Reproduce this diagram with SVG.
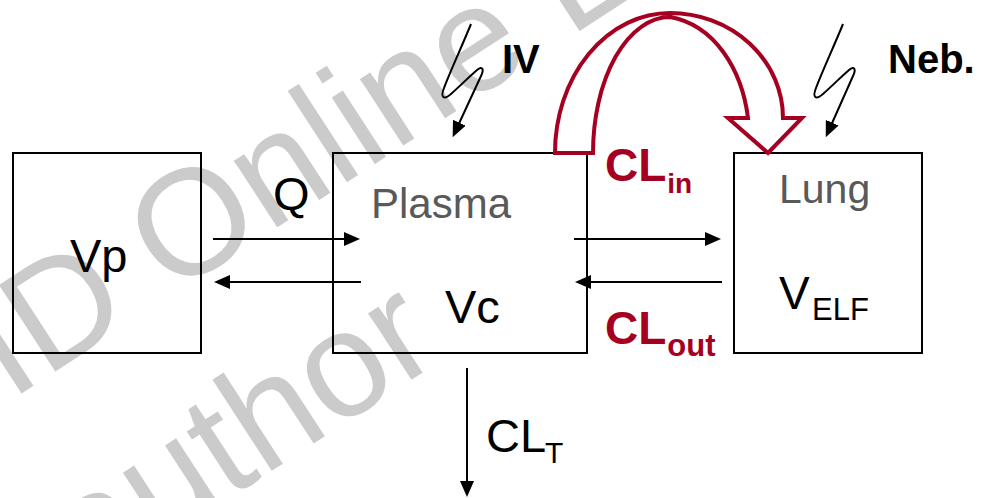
<svg xmlns="http://www.w3.org/2000/svg" width="982" height="498" viewBox="0 0 982 498">
<defs>
<marker id="ah" markerUnits="userSpaceOnUse" markerWidth="16" markerHeight="14" refX="8" refY="7" orient="auto">
<path d="M0,0 L16,7 L0,14 Z" fill="#000"/>
</marker>
<style>
.box{fill:none;stroke:#000;stroke-width:2}
.t{font-family:"Liberation Sans",Arial,sans-serif;fill:#000}
.g{fill:#595959}
.b{font-weight:bold}
.red{fill:#A50021}
.wm{font-family:"Liberation Sans",Arial,sans-serif;fill:#cbcbcb;font-size:150px}
.c{fill:none;stroke:#000;stroke-width:2}
</style>
</defs>
<rect width="982" height="498" fill="#fff"/>
<g id="watermark">
<text class="wm" transform="translate(10,401) rotate(-33)">ID Online L</text>
<text class="wm" transform="translate(88,590) rotate(-33)">author</text>
</g>
<g id="node-vp">
<rect class="box" x="13" y="153" width="188" height="200"/>
<text class="t" x="70" y="272" font-size="47">Vp</text>
</g>
<g id="node-plasma">
<rect class="box" x="333" y="153" width="254" height="200"/>
<text class="t g" x="371" y="218" font-size="42">Plasma</text>
<text class="t" x="445" y="323" font-size="47">Vc</text>
</g>
<g id="node-lung">
<rect class="box" x="734" y="153" width="188" height="200"/>
<text class="t g" x="779" y="203" font-size="41">Lung</text>
<text class="t" x="779" y="309" font-size="46">V<tspan font-size="31" x="812" y="320">ELF</tspan></text>
</g>
<g id="connectors">
<path class="c" d="M213,239 H352" marker-end="url(#ah)"/>
<path class="c" d="M361,282 H222" marker-end="url(#ah)"/>
<path class="c" d="M574,239 H713" marker-end="url(#ah)"/>
<path class="c" d="M722,282 H583" marker-end="url(#ah)"/>
<path class="c" d="M467,368 V489" marker-end="url(#ah)"/>
<path class="c" d="M471,24 C462,46 450,72 444,88 C440,98 444,100 451,94 C460,86 470,76 477,70 C483,65 484,70 481,76 L456,130" marker-end="url(#ah)"/>
<path class="c" d="M843,24 C834,46 822,72 816,88 C812,98 816,100 823,94 C832,86 842,76 849,70 C855,65 856,70 853,76 L829,130" marker-end="url(#ah)"/>
<path d="M555,153 A115,140 0 0 1 670,13 A113,105 0 0 1 783,118 L802,118 L768,153 L728,118 L748,118 C742,70 715,25 670,17 A77,136 0 0 0 593,153 Z" fill="#fff" stroke="#A50021" stroke-width="4" stroke-linejoin="miter"/>
</g>
<g id="labels">
<text class="t" x="273" y="210" font-size="47">Q</text>
<text class="t b" x="502" y="73" font-size="40">IV</text>
<text class="t b" x="888" y="73" font-size="40">Neb.</text>
<text class="t b red" x="605" y="181" font-size="46">CL<tspan font-size="28" dx="1" y="193">in</tspan></text>
<text class="t b red" x="605" y="344" font-size="46">CL<tspan font-size="31" dx="1" y="356">out</tspan></text>
<text class="t" x="486" y="452" font-size="47">CL<tspan font-size="30" x="545" y="463">T</tspan></text>
</g>
</svg>
